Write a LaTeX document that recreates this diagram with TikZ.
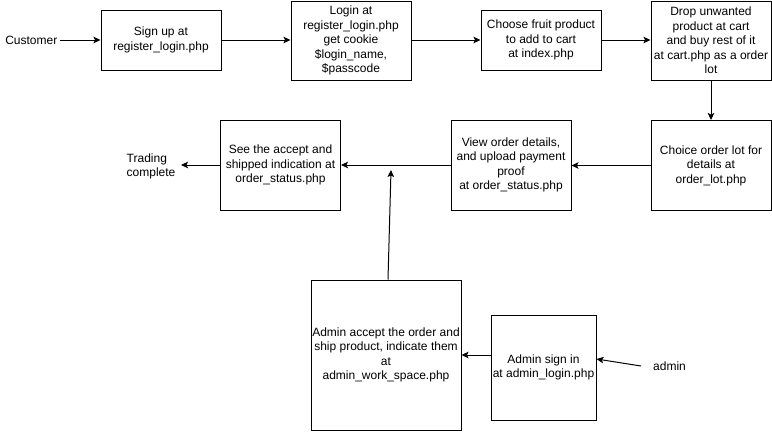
\documentclass[tikz,border=0pt]{standalone}
\usepackage{fontspec}
\setmainfont{Liberation Sans}
\usetikzlibrary{arrows.meta}
\begin{document}
\begin{tikzpicture}[x=1pt,y=-1pt,
  box/.style={draw, line width=1pt, align=center, inner sep=0pt, font=\fontsize{12}{14.4}\selectfont},
  lbl/.style={inner sep=0pt, font=\fontsize{12}{14.4}\selectfont},
  arr/.style={line width=1pt, -{Stealth[length=7pt,width=6.5pt,inset=1.5pt]}}]
\useasboundingbox (0,0) rectangle (772,432);
\node[box, minimum width=120pt, minimum height=60pt] (b1) at (161,40) {Sign up at\\register\_login.php};
\node[box, minimum width=120pt, minimum height=79pt] (b2) at (351,40.5) {Login at\\register\_login.php\\get cookie\\\$login\_name,\\\$passcode};
\node[box, minimum width=120pt, minimum height=60pt] (b3) at (541,40) {Choose fruit product\\to add to cart\\at index.php};
\node[box, minimum width=120pt, minimum height=79pt] (b4) at (711,40.5) {Drop unwanted\\product at cart\\and buy rest of it\\at cart.php as a order\\lot};
\node[box, minimum width=120pt, minimum height=90pt] (b5) at (711,165.5) {Choice order lot for\\details at\\order\_lot.php};
\node[box, minimum width=120pt, minimum height=90pt] (b6) at (511,165) {View order details,\\and upload payment\\proof\\at order\_status.php};
\node[box, minimum width=120pt, minimum height=90pt] (b7) at (280.5,165) {See the accept and\\shipped indication at\\order\_status.php};
\node[box, minimum width=150pt, minimum height=150pt] (b8) at (386,355) {Admin accept the order and\\ship product, indicate them\\at\\admin\_work\_space.php};
\node[box, minimum width=105pt, minimum height=105pt] (b9) at (543.5,367.5) {Admin sign in\\at admin\_login.php};
\node[lbl, anchor=east] (cust) at (57.5,40) {Customer};
\node[lbl, align=left, anchor=west] (tc) at (126.5,166.5) {Trading\\complete};
\node[lbl, anchor=west] (adm) at (653,366) {admin};
\coordinate (tcend) at (181,165);
\coordinate (admstart) at (641,366);
\coordinate (upend) at (391,170);
\draw[arr] ([xshift=2pt]cust.east) -- (b1.west);
\draw[arr] (b1.east) -- (b2.west |- b1.east);
\draw[arr] (b2.east |- b3.west) -- (b3.west);
\draw[arr] (b3.east) -- (b4.west |- b3.east);
\draw[arr] (b4.south) -- (b5.north);
\draw[arr] (b5.west) -- (b6.east |- b5.west);
\draw[arr] (b6.west) -- (b7.east |- b6.west);
\draw[arr] (b7.west) -- (tcend);
\draw[arr] ([xshift=2pt]b8.north) -- (upend);
\draw[arr] (b9.west |- b8.east) -- (b8.east);
\draw[arr] (admstart) -- ([yshift=8.5pt]b9.east);
\end{tikzpicture}
\end{document}
